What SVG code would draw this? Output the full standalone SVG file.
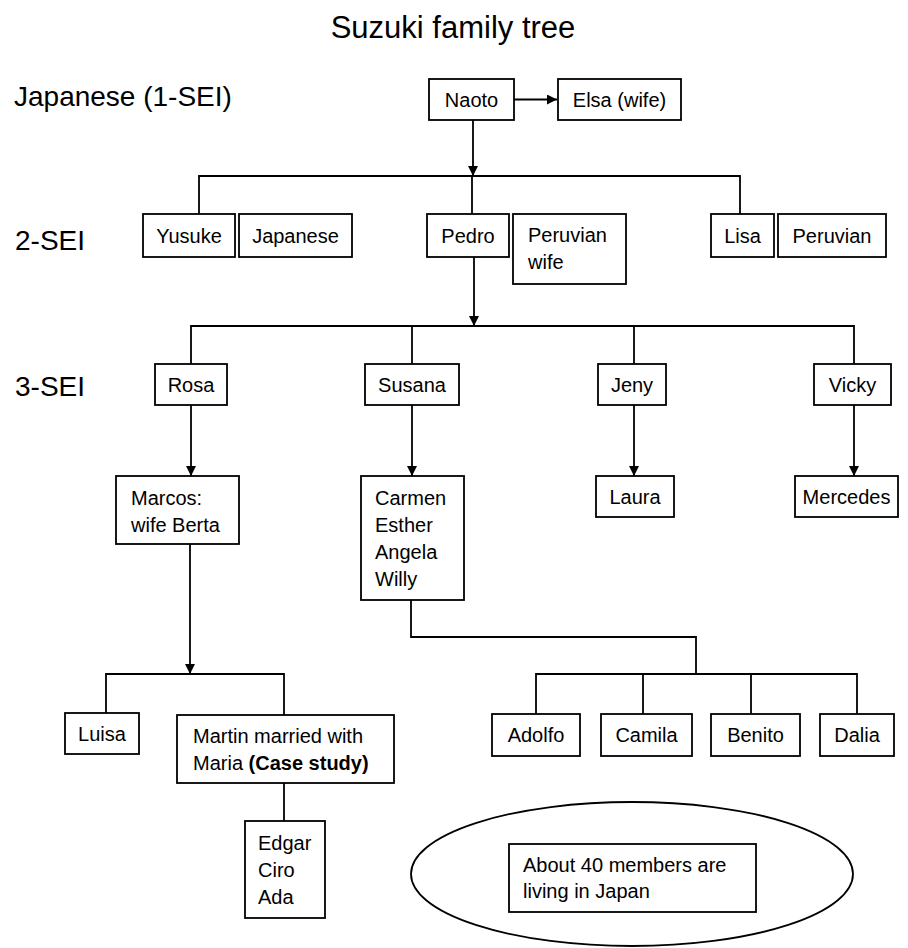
<svg xmlns="http://www.w3.org/2000/svg" width="908" height="948" viewBox="0 0 908 948">
<style>
.box{fill:#fff;stroke:#000;stroke-width:1.8}
.t{font-family:"Liberation Sans",Arial,sans-serif;font-size:20px;fill:#000}
.c{text-anchor:middle}
.lbl{font-family:"Liberation Sans",Arial,sans-serif;font-size:28px;fill:#000}
.ln{fill:none;stroke:#000;stroke-width:1.8}
</style>
<defs>
<marker id="ah" markerWidth="10" markerHeight="10" refX="10" refY="5" orient="auto" markerUnits="userSpaceOnUse">
<path d="M0,0 L10,5 L0,10 Z" fill="#000"/>
</marker>
</defs>
<rect width="908" height="948" fill="#fff"/>
<text x="453" y="38" class="lbl" style="font-size:31px" text-anchor="middle">Suzuki family tree</text>
<text x="14" y="106" class="lbl">Japanese (1-SEI)</text>
<text x="15" y="250" class="lbl">2-SEI</text>
<text x="15" y="396" class="lbl">3-SEI</text>

<g id="connectors">
<line class="ln" x1="514" y1="99.5" x2="557" y2="99.5" marker-end="url(#ah)"/>
<line class="ln" x1="473" y1="120" x2="473" y2="176" marker-end="url(#ah)"/>
<polyline class="ln" points="199,214 199,176 740,176 740,214"/>
<line class="ln" x1="472" y1="176" x2="472" y2="214"/>
<line class="ln" x1="474" y1="257" x2="474" y2="326" marker-end="url(#ah)"/>
<polyline class="ln" points="191,364 191,326 854,326 854,364"/>
<line class="ln" x1="412" y1="326" x2="412" y2="364"/>
<line class="ln" x1="634" y1="326" x2="634" y2="364"/>
<line class="ln" x1="191" y1="405" x2="191" y2="476" marker-end="url(#ah)"/>
<line class="ln" x1="412" y1="405" x2="412" y2="476" marker-end="url(#ah)"/>
<line class="ln" x1="634" y1="405" x2="634" y2="476" marker-end="url(#ah)"/>
<line class="ln" x1="854" y1="405" x2="854" y2="476" marker-end="url(#ah)"/>
<line class="ln" x1="190" y1="544" x2="190" y2="674" marker-end="url(#ah)"/>
<polyline class="ln" points="106,713 106,674 284,674 284,715"/>
<line class="ln" x1="284" y1="783" x2="284" y2="821"/>
<polyline class="ln" points="411,600 411,637 696,637 696,674"/>
<polyline class="ln" points="536,714 536,674 857,674 857,714"/>
<line class="ln" x1="643" y1="674" x2="643" y2="714"/>
<line class="ln" x1="751" y1="674" x2="751" y2="714"/>
</g>

<g id="naoto"><rect class="box" x="429" y="79" width="85" height="41"/><text class="t c" x="471.5" y="106.5">Naoto</text></g>
<g id="elsa"><rect class="box" x="558" y="79" width="123" height="41"/><text class="t c" x="619.5" y="106.5">Elsa (wife)</text></g>

<g id="yusuke"><rect class="box" x="143" y="214" width="92" height="43"/><text class="t c" x="189" y="242.5">Yusuke</text></g>
<g id="japanese"><rect class="box" x="239" y="214" width="113" height="43"/><text class="t c" x="295.5" y="242.5">Japanese</text></g>
<g id="pedro"><rect class="box" x="427" y="214" width="82" height="43"/><text class="t c" x="468" y="242.5">Pedro</text></g>
<g id="peruvian-wife"><rect class="box" x="513" y="214" width="113" height="70"/><text class="t" x="528" y="242">Peruvian</text><text class="t" x="528" y="269">wife</text></g>
<g id="lisa"><rect class="box" x="711" y="214" width="63" height="43"/><text class="t c" x="742.5" y="242.5">Lisa</text></g>
<g id="peruvian"><rect class="box" x="778" y="214" width="108" height="43"/><text class="t c" x="832" y="242.5">Peruvian</text></g>

<g id="rosa"><rect class="box" x="155" y="364" width="72" height="41"/><text class="t c" x="191" y="391.5">Rosa</text></g>
<g id="susana"><rect class="box" x="365" y="364" width="94" height="41"/><text class="t c" x="412" y="391.5">Susana</text></g>
<g id="jeny"><rect class="box" x="598" y="364" width="68" height="41"/><text class="t c" x="632" y="391.5">Jeny</text></g>
<g id="vicky"><rect class="box" x="814" y="364" width="77" height="41"/><text class="t c" x="852.5" y="391.5">Vicky</text></g>

<g id="marcos"><rect class="box" x="116" y="476" width="123" height="68"/><text class="t" x="131" y="505">Marcos:</text><text class="t" x="131" y="532">wife Berta</text></g>
<g id="carmen"><rect class="box" x="361" y="476" width="103" height="124"/><text class="t" x="375" y="505">Carmen</text><text class="t" x="375" y="532">Esther</text><text class="t" x="375" y="559">Angela</text><text class="t" x="375" y="586">Willy</text></g>
<g id="laura"><rect class="box" x="596" y="476" width="78" height="41"/><text class="t c" x="635" y="503.5">Laura</text></g>
<g id="mercedes"><rect class="box" x="795" y="476" width="103" height="41"/><text class="t c" x="846.5" y="503.5">Mercedes</text></g>

<g id="luisa"><rect class="box" x="65" y="713" width="74" height="41"/><text class="t c" x="102" y="740.5">Luisa</text></g>
<g id="martin"><rect class="box" x="177" y="715" width="217" height="68"/><text class="t" x="193" y="743">Martin married with</text><text class="t" x="193" y="770">Maria <tspan font-weight="bold">(Case study)</tspan></text></g>
<g id="edgar"><rect class="box" x="245" y="821" width="80" height="97"/><text class="t" x="258" y="850">Edgar</text><text class="t" x="258" y="877">Ciro</text><text class="t" x="258" y="904">Ada</text></g>

<g id="adolfo"><rect class="box" x="492" y="714" width="88" height="42"/><text class="t c" x="536" y="742">Adolfo</text></g>
<g id="camila"><rect class="box" x="601" y="714" width="91" height="42"/><text class="t c" x="646.5" y="742">Camila</text></g>
<g id="benito"><rect class="box" x="711" y="714" width="89" height="42"/><text class="t c" x="755.5" y="742">Benito</text></g>
<g id="dalia"><rect class="box" x="820" y="714" width="74" height="42"/><text class="t c" x="857" y="742">Dalia</text></g>

<g id="note">
<ellipse class="box" cx="632" cy="874" rx="221" ry="72"/>
<rect class="box" x="509" y="844" width="247" height="68"/>
<text class="t" x="523" y="872">About 40 members are</text>
<text class="t" x="523" y="898">living in Japan</text>
</g>
</svg>
